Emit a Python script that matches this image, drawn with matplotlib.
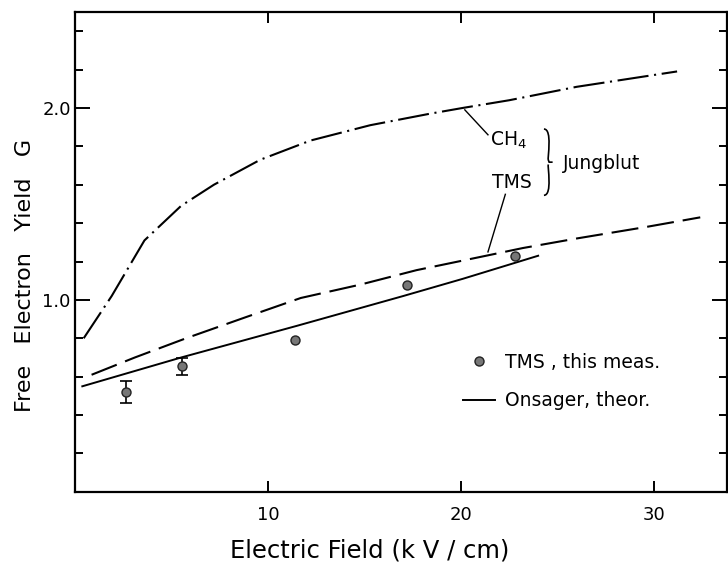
import numpy as np
import matplotlib.pyplot as plt
from matplotlib.path import Path
from matplotlib.patches import PathPatch

# Jungblut CH4 (dash-dot)
ch4_x = [0.45, 1.9, 3.6, 5.5, 7.2, 9.6, 12.2, 15.3, 18.4, 20.1, 22.5, 26.0, 31.2]
ch4_y = [0.80, 1.02, 1.31, 1.49, 1.60, 1.73, 1.83, 1.91, 1.97, 2.00, 2.04, 2.11, 2.19]

# Jungblut TMS (dashed)
tmsj_x = [0.86, 3.1, 5.75, 8.85, 11.7, 14.8, 17.7, 21.3, 23.2, 26.0, 29.6, 32.4]
tmsj_y = [0.61, 0.70, 0.80, 0.91, 1.01, 1.08, 1.155, 1.23, 1.27, 1.32, 1.38, 1.43]

# Onsager theory (solid)
ons_x = [0.38, 5.5, 11.5, 17.0, 20.1, 24.0]
ons_y = [0.55, 0.70, 0.865, 1.02, 1.11, 1.23]

# TMS, this measurement
meas_x = [2.65, 5.56, 11.4, 17.2, 22.8]
meas_y = [0.52, 0.654, 0.79, 1.08, 1.23]
meas_err = [0.058, 0.045, 0.0, 0.0, 0.0]

plt.rcParams['font.family'] = 'DejaVu Sans'

fig = plt.figure(figsize=(7.28, 5.68), dpi=100)
ax = fig.add_axes([0.103, 0.134, 0.896, 0.845])

lw = 1.5
ax.plot(ch4_x, ch4_y, color='k', lw=lw, dashes=(15, 2.7, 1, 2.7))
ax.plot(tmsj_x, tmsj_y, color='k', lw=lw, dashes=(13, 4.3))
ons, = ax.plot(ons_x, ons_y, color='k', lw=1.4)

err = np.array(meas_err)
has = err > 0
ax.errorbar(np.array(meas_x)[has], np.array(meas_y)[has], yerr=err[has],
            fmt='none', ecolor='k', elinewidth=1.2, capsize=4, capthick=1.2)
pts, = ax.plot(meas_x, meas_y, 'o', ms=6.5, mfc='#777777', mec='#222222', mew=1.0, ls='none')

ax.set_xlim(0, 33.8)
ax.set_ylim(0, 2.5)
ax.set_xticks([10, 20, 30])
ax.set_yticks([1.0, 2.0])
ax.set_yticklabels(['1.0', '2.0'])
minor = [v for v in np.round(np.arange(0.2, 2.5, 0.2), 1) if v not in (1.0, 2.0)]
ax.set_yticks(minor, minor=True)

ax.tick_params(axis='x', which='major', direction='in', length=8, width=1.4,
               top=True, labelsize=13, pad=10)
ax.tick_params(axis='y', which='major', direction='in', length=11, width=1.4,
               right=True, labelsize=13, pad=3)
ax.tick_params(axis='y', which='minor', direction='in', length=6, width=1.4, right=True)
for s in ax.spines.values():
    s.set_linewidth(1.6)

ax.set_xlabel('Electric Field (k V / cm)', fontsize=17.5)
ax.set_ylabel('Free   Electron   Yield   G', fontsize=16)
ax.xaxis.set_label_coords(0.452, -0.098)
ax.yaxis.set_label_coords(-0.062, 0.45)

# annotations
ax.text(21.5, 1.83, r'CH$_4$', fontsize=13.5, va='center', ha='left')
ax.text(21.6, 1.61, 'TMS', fontsize=13.5, va='center', ha='left')
ax.plot([20.2, 21.4], [1.99, 1.86], color='k', lw=1.0)
ax.plot([22.3, 21.4], [1.55, 1.25], color='k', lw=1.0)
ax.text(25.3, 1.71, 'Jungblut', fontsize=13.5, va='center', ha='left')

# curly brace
bx, by0, by1, bw = 24.3, 1.545, 1.89, 0.45
bm = (by0 + by1) / 2
verts = [(bx, by1), (bx + bw, by1), (bx + bw * 0.4, bm + 0.02), (bx + bw * 0.5, bm + 0.012),
         (bx + bw * 0.6, bm), (bx + bw, bm),
         (bx + bw * 0.5, bm - 0.012), (bx + bw * 0.4, bm - 0.02), (bx + bw, by0), (bx, by0)]
codes = [Path.MOVETO, Path.CURVE4, Path.CURVE4, Path.CURVE4,
         Path.LINETO, Path.LINETO,
         Path.MOVETO, Path.CURVE4, Path.CURVE4, Path.CURVE4]
ax.add_patch(PathPatch(Path(verts, codes), fill=False, lw=1.2, color='k'))

ax.legend([pts, ons], ['TMS , this meas.', 'Onsager, theor.'], loc='upper left',
          bbox_to_anchor=(0.595, 0.29), frameon=False, fontsize=13.5, handlelength=1.7,
          handletextpad=0.55, labelspacing=1.05, borderpad=0, borderaxespad=0)

fig.savefig('out.png', dpi=100)
